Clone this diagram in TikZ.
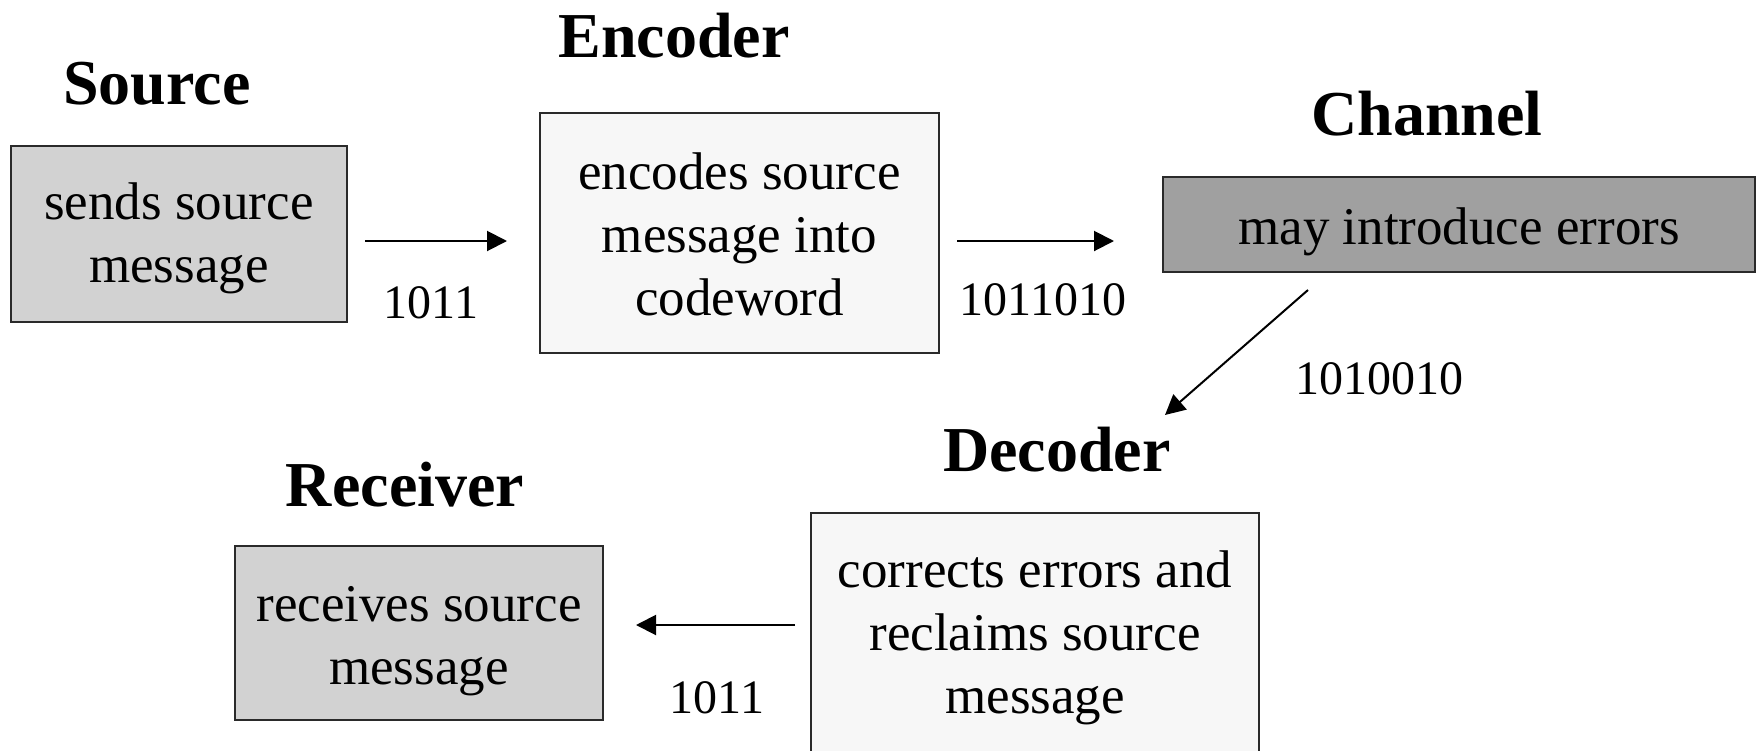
\documentclass[tikz,border=0pt]{standalone}
\usepackage{fontspec}
\setmainfont{Liberation Serif}
\usetikzlibrary{arrows.meta,calc}

\definecolor{grey_light}{HTML}{D2D2D2}
\definecolor{grey_pale}{HTML}{F7F7F7}
\definecolor{grey_dark}{HTML}{A0A0A0}
\definecolor{edge_grey}{HTML}{2A2A2A}
\tikzstyle{stage_box}=[rectangle,
                         draw=edge_grey,
                         line width=1pt,
                         align=center,
                         font=\fontsize{26.5}{31.5}\selectfont, ]
\tikzstyle{stage_title}=[anchor=base,
                           inner sep=0,
                           font=\fontsize{32}{38}\selectfont\bfseries, ]
\tikzstyle{bits}=[anchor=base,
                    inner sep=0,
                    font=\fontsize{24}{28}\selectfont, ]
\tikzstyle{flow}=[line width=1pt,
                    -{Triangle[length=10pt, width=10pt]}, ]

\begin{document}
\begin{tikzpicture}[x=0.5pt, y=-0.5pt]
  \useasboundingbox (0, 0) rectangle (1757, 750);
  % Boxes
  % -------------------------------------------------------------
  \node at (179, 234) (src) [stage_box, fill=grey_light, minimum width=168pt, minimum height=88pt, text height=54.4pt] {sends source\\message};
  \node at (739.5, 233) (enc) [stage_box, fill=grey_pale, minimum width=199.5pt, minimum height=120pt, text height=83.2pt] {encodes source\\message into\\codeword};
  \node at (1459, 224.5) (chan) [stage_box, fill=grey_dark, minimum width=296pt, minimum height=47.5pt, text height=25.9pt] {may introduce errors};
  \node at (1035, 635) (dec) [stage_box, fill=grey_pale, minimum width=224pt, minimum height=122pt, text height=84.4pt] {corrects errors and\\reclaims source\\message};
  \node at (419, 633) (rec) [stage_box, fill=grey_light, minimum width=184pt, minimum height=87pt, text height=57.4pt] {receives source\\message};

  % Titles
  % -------------------------------------------------------------
  \node at (157, 104.5) (src_title) [stage_title] {Source};
  \node at (674, 57) (enc_title) [stage_title] {Encoder};
  \node at (1427, 135.5) (chan_title) [stage_title] {Channel};
  \node at (1057, 471.5) (dec_title) [stage_title] {Decoder};
  \node at (405, 506) (rec_title) [stage_title] {Receiver};

  % Arrows and codewords
  % -------------------------------------------------------------
  \draw[flow] ($(src.east) + (17, 7)$) -- ($(enc.west) + (-32, 8)$);
  \draw[flow] ($(enc.east) + (17, 8)$) -- ($(chan.west) + (-48, 16.5)$);
  \draw[flow] ($(chan.south) + (-151, 17)$) -- ($(dec.north) + (130, -97)$);
  \draw[flow] ($(dec.west) + (-15, -10)$) -- ($(rec.east) + (32, -8)$);

  \node at (431, 318) (bits_src) [bits] {1011};
  \node at (1043, 315) (bits_enc) [bits] {1011010};
  \node at (1379, 394) (bits_chan) [bits] {1010010};
  \node at (717, 713) (bits_dec) [bits] {1011};
\end{tikzpicture}
\end{document}
